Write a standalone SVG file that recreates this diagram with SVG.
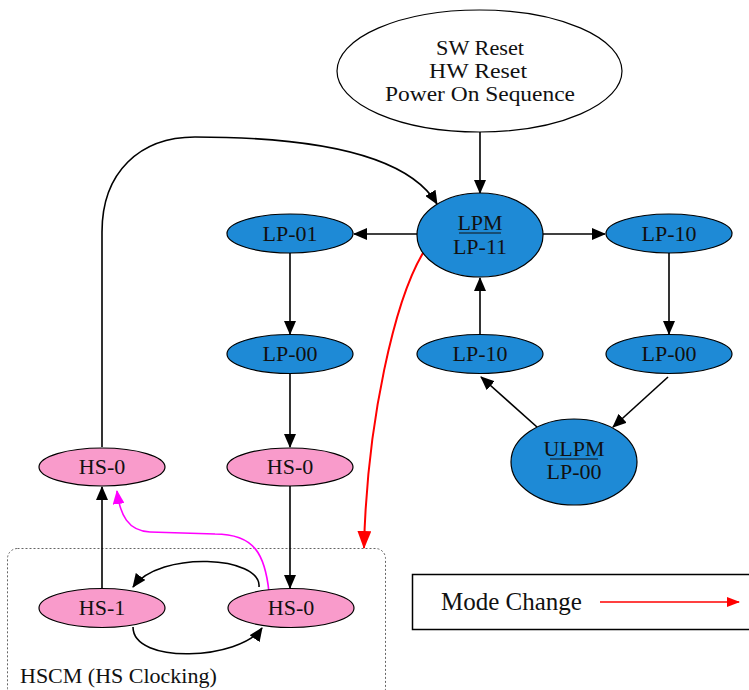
<svg xmlns="http://www.w3.org/2000/svg" width="749" height="690" viewBox="0 0 749 690">
  <style>
    .lbl { font-family: "Liberation Serif", "Times New Roman", serif; font-size: 22px; fill: #111; text-anchor: middle; }
    .top { font-size: 20px; }
    .lp { fill: #1E8AD6; stroke: #000; stroke-width: 1.2; }
    .hs { fill: #F99BCB; stroke: #000; stroke-width: 1.2; }
    .edge { fill: none; stroke: #000; stroke-width: 1.6; marker-end: url(#ah); }
  </style>
  <defs>
    <marker id="ah" markerUnits="userSpaceOnUse" viewBox="0 0 14 12" refX="13" refY="6" markerWidth="14" markerHeight="12" orient="auto">
      <path d="M0,0 L14,6 L0,12 Z" fill="#000"/>
    </marker>
    <marker id="ahm" markerUnits="userSpaceOnUse" viewBox="0 0 14 12" refX="13" refY="6" markerWidth="14" markerHeight="12" orient="auto">
      <path d="M0,0 L14,6 L0,12 Z" fill="#FF00FF"/>
    </marker>
    <marker id="ahr" markerUnits="userSpaceOnUse" viewBox="0 0 18 14" refX="17" refY="7" markerWidth="18" markerHeight="14" orient="auto">
      <path d="M0,0 L18,7 L0,14 Z" fill="#FF0000"/>
    </marker>
    <marker id="ahr2" markerUnits="userSpaceOnUse" viewBox="0 0 13 10" refX="12" refY="5" markerWidth="13" markerHeight="10" orient="auto">
      <path d="M0,0 L13,5 L0,10 Z" fill="#FF0000"/>
    </marker>
  </defs>

  <rect width="749" height="690" fill="#fff"/>

  <!-- HS clocking mode container -->
  <g id="hscm">
    <rect x="7.5" y="548.5" width="378" height="150" rx="10" fill="none" stroke="#666" stroke-width="1" stroke-dasharray="2,2"/>
    <text x="20" y="683" class="lbl" style="text-anchor:start">HSCM (HS Clocking)</text>
  </g>

  <!-- connectors -->
  <g id="connectors">
    <path class="edge" d="M480,132 L480,193"/>
    <path class="edge" d="M417,234 L354,234"/>
    <path class="edge" d="M543,234 L605,234"/>
    <path class="edge" d="M290,253 L290,334"/>
    <path class="edge" d="M290,373 L290,447"/>
    <path class="edge" d="M290,486 L290,588"/>
    <path class="edge" d="M669,253 L669,334"/>
    <path class="edge" d="M480,335 L480,278"/>
    <path class="edge" d="M537,427 L481,377"/>
    <path class="edge" d="M668,377 L613,427"/>
    <path class="edge" d="M102,588 L102,487"/>
    <path class="edge" d="M102,447 L102,232 C102,172 140,137 195,137 C300,137 405,150 437,204"/>
    <path class="edge" d="M259,587 C262,556 160,550 133,587"/>
    <path class="edge" d="M133,627 C133,665 240,660 262,628"/>
    <path d="M269,592 C265,555 255,534 215,534 L150,532 C128,531 120,515 117,491" fill="none" stroke="#FF00FF" stroke-width="1.6" marker-end="url(#ahm)"/>
    <path d="M423,253 C395,300 367,420 364,548" fill="none" stroke="#FF0000" stroke-width="2" marker-end="url(#ahr)"/>
  </g>

  <!-- reset sources -->
  <g id="reset">
    <ellipse cx="479.5" cy="71" rx="142.5" ry="61" fill="#fff" stroke="#000" stroke-width="1.2"/>
    <text x="480" y="55" class="lbl top" textLength="88" lengthAdjust="spacingAndGlyphs">SW Reset</text>
    <text x="478" y="78" class="lbl top" textLength="98" lengthAdjust="spacingAndGlyphs">HW Reset</text>
    <text x="480" y="101" class="lbl top" textLength="190" lengthAdjust="spacingAndGlyphs">Power On Sequence</text>
  </g>

  <g id="lpm">
    <ellipse class="lp" cx="480" cy="235" rx="63" ry="42"/>
    <text x="480" y="230" class="lbl">LPM</text>
    <line x1="459" y1="233" x2="501" y2="233" stroke="#111" stroke-width="1"/>
    <text x="480" y="254" class="lbl">LP-11</text>
  </g>

  <g id="lp01">
    <ellipse class="lp" cx="290" cy="233.5" rx="63" ry="19.5"/>
    <text x="290" y="241" class="lbl">LP-01</text>
  </g>

  <g id="lp00-a">
    <ellipse class="lp" cx="290" cy="354" rx="63" ry="19.5"/>
    <text x="290" y="361" class="lbl">LP-00</text>
  </g>

  <g id="lp10-a">
    <ellipse class="lp" cx="669" cy="233.5" rx="63" ry="19.5"/>
    <text x="669" y="241" class="lbl">LP-10</text>
  </g>

  <g id="lp00-b">
    <ellipse class="lp" cx="669" cy="354" rx="63" ry="19.5"/>
    <text x="669" y="361" class="lbl">LP-00</text>
  </g>

  <g id="lp10-b">
    <ellipse class="lp" cx="480" cy="354" rx="63" ry="19.5"/>
    <text x="480" y="361" class="lbl">LP-10</text>
  </g>

  <g id="ulpm">
    <ellipse class="lp" cx="574" cy="462" rx="63" ry="43"/>
    <text x="574" y="456" class="lbl">ULPM</text>
    <line x1="550" y1="459" x2="598" y2="459" stroke="#111" stroke-width="1"/>
    <text x="574" y="479" class="lbl">LP-00</text>
  </g>

  <g id="hs0-a">
    <ellipse class="hs" cx="102" cy="467" rx="63" ry="19"/>
    <text x="102" y="474" class="lbl">HS-0</text>
  </g>

  <g id="hs0-b">
    <ellipse class="hs" cx="290" cy="467" rx="63" ry="19"/>
    <text x="290" y="474" class="lbl">HS-0</text>
  </g>

  <g id="hs1">
    <ellipse class="hs" cx="102" cy="608" rx="63" ry="19.5"/>
    <text x="102" y="615" class="lbl">HS-1</text>
  </g>

  <g id="hs0-c">
    <ellipse class="hs" cx="291" cy="608" rx="63" ry="19.5"/>
    <text x="291" y="615" class="lbl">HS-0</text>
  </g>

  <!-- legend -->
  <g id="legend">
    <rect x="412.5" y="574.5" width="340" height="55" fill="#fff" stroke="#000" stroke-width="1.5"/>
    <text x="441" y="610" class="lbl" style="text-anchor:start; font-size:25px">Mode Change</text>
    <path d="M600,602 L739,602" stroke="#FF0000" stroke-width="1.6" marker-end="url(#ahr2)"/>
  </g>
</svg>
